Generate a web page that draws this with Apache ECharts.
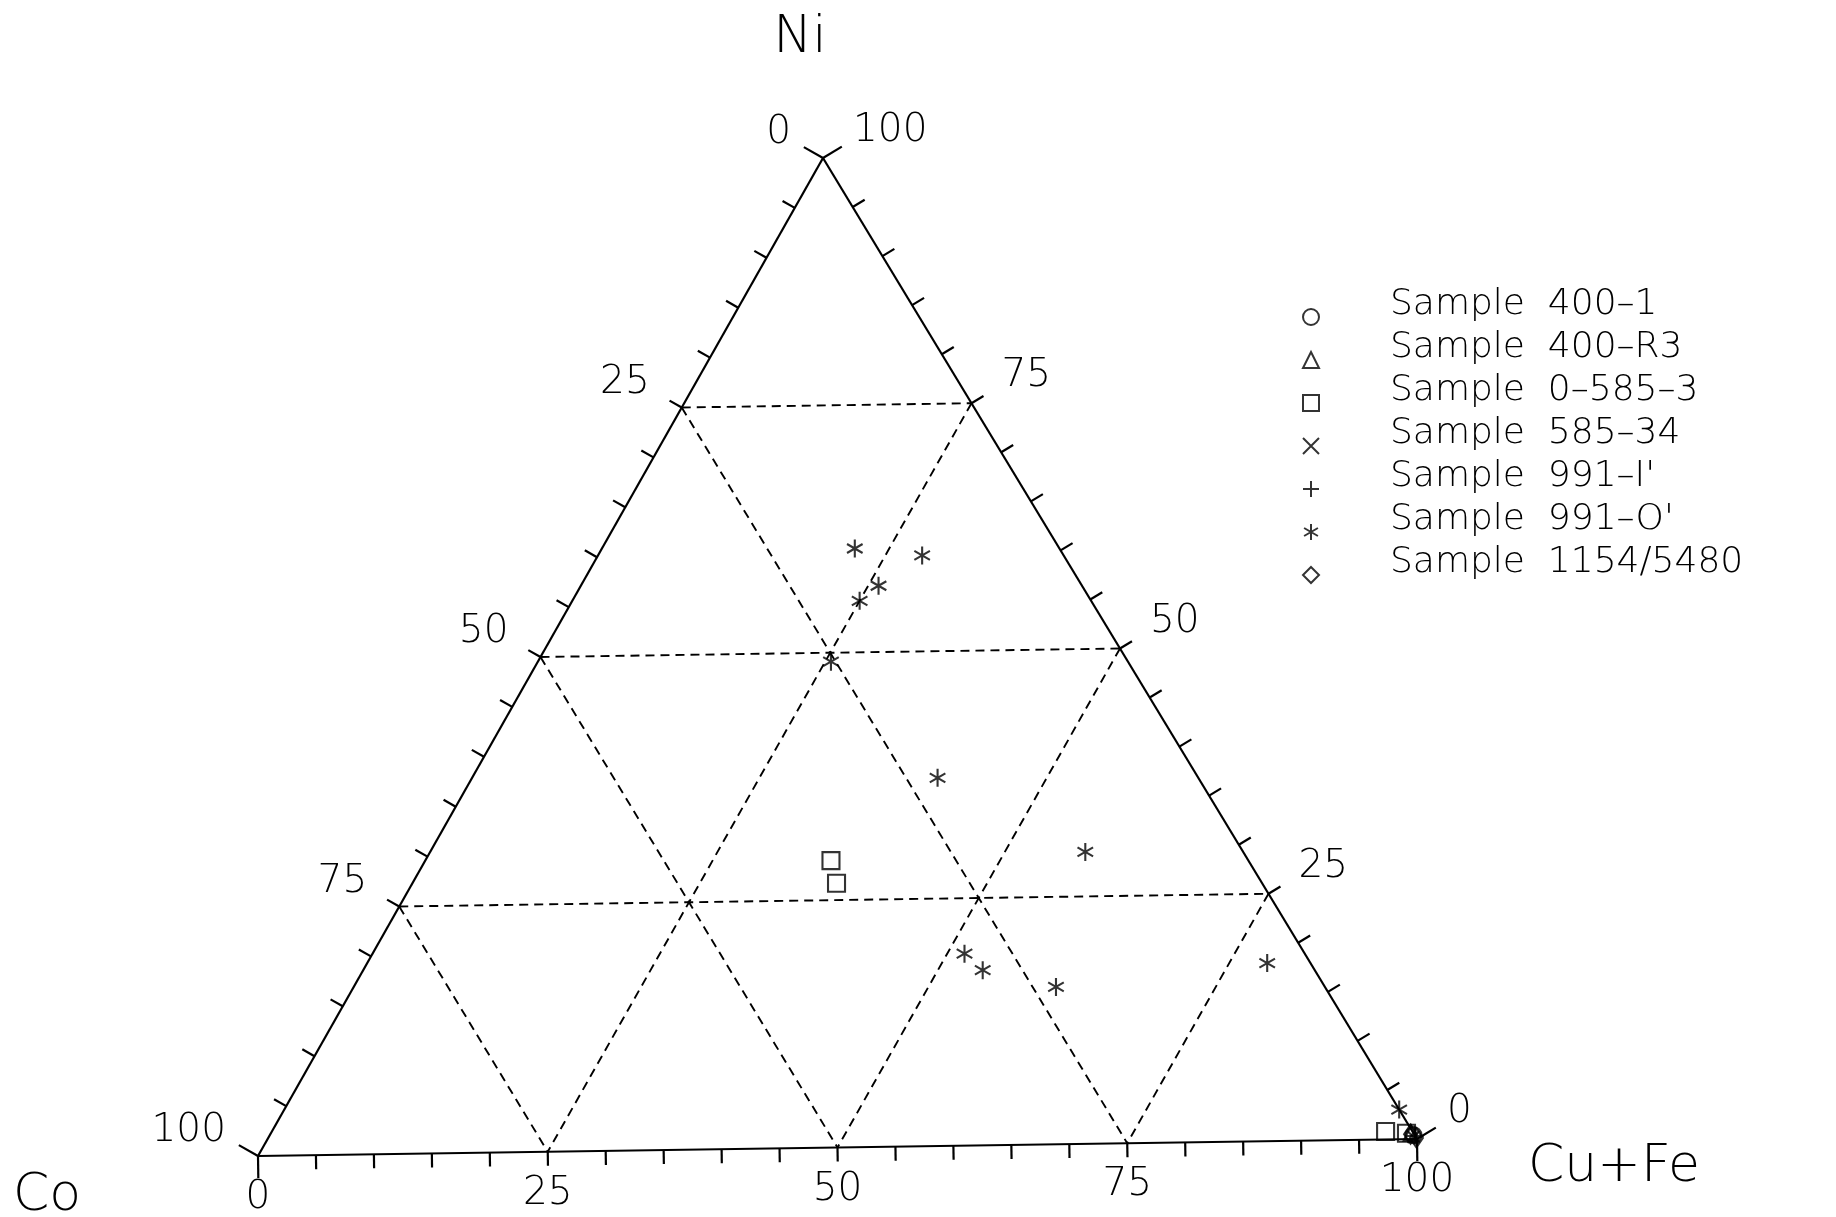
<!DOCTYPE html>
<html>
<head>
<meta charset="utf-8">
<title>Ni – Co – Cu+Fe ternary diagram</title>
<script src="https://cdn.jsdelivr.net/npm/echarts@6/dist/echarts.min.js"></script>
<style>
  html, body { margin: 0; padding: 0; background: #fff; }
  #chart { width: 1836px; height: 1217px; }
</style>
</head>
<body>
<div id="chart"></div>
<script>
// ---- compositions, percent: [Ni, Co, Cu+Fe] ----
const CORNER_NAMES = ['Ni', 'Co', 'Cu+Fe'];
const TICK_LABELS = ['0', '25', '50', '75', '100'];
const TICK_LABEL_VALUES = [0, 25, 50, 75, 100];
const GRID_LEVELS = [25, 50, 75];
const TICK_STEP = 5;

const SAMPLE_NAMES = ['400–1', '400–R3', '0–585–3', '585–34', "991–I'", "991–O'", '1154/5480'];

const s400_1 = [[0.4, 0.1, 99.5]];
const s400_R3 = [[0.6, 0.2, 99.2]];
const s0_585_3 = [[29.0, 35.7, 35.3], [26.7, 36.4, 36.9], [0.8, 2.3, 96.9], [0.6, 0.6, 98.8]];
const s585_34 = [[0.2, 0.2, 99.6]];
const s991_I = [[0.3, 0.0, 99.7]];
const s991_O = [
  [60.5, 17.5, 22.0], [59.7, 12.1, 28.2], [56.7, 17.4, 25.9], [55.2, 19.8, 25.0],
  [49.1, 25.4, 25.5], [37.2, 22.3, 40.5], [29.5, 13.5, 57.0], [19.4, 29.1, 51.5],
  [17.7, 28.4, 53.9], [15.9, 23.0, 61.1], [18.0, 3.7, 78.3], [3.0, 0.0, 97.0]
];
const s1154_5480 = [[0.1, 0.0, 99.9], [0.5, 0.3, 99.2]];

// ---- layout ----
const FONT = 'DejaVu Sans';
const WEIGHT = 200;
const INK = '#000';
// plane units: the grid spans the whole canvas, so one unit is one pixel
const PLANE_W = 1836, PLANE_H = 1217;
const CORNER = { ni: [823, 158], co: [258, 1156], cufe: [1417, 1139] };

function plane(ni, co, cufe) {
  const s = ni + co + cufe;
  return [
    (ni * CORNER.ni[0] + co * CORNER.co[0] + cufe * CORNER.cufe[0]) / s,
    (ni * CORNER.ni[1] + co * CORNER.co[1] + cufe * CORNER.cufe[1]) / s
  ];
}

// the three scales running along the triangle edges
const AXES = [
  { at: v => plane(0, 100 - v, v), label: { dx: 0, dy: 42, align: 'center' } },   // Cu+Fe, base
  { at: v => plane(100 - v, v, 0), label: { dx: -32, dy: -25, align: 'right' } }, // Co, left edge
  { at: v => plane(v, 0, 100 - v), label: { dx: 30, dy: -27, align: 'left' } }    // Ni, right edge
];

// dashed guide lines at constant Ni, Co and Cu+Fe
const guideRows = [];
GRID_LEVELS.forEach(g => {
  guideRows.push(plane(g, 100 - g, 0).concat(plane(g, 0, 100 - g)));
  guideRows.push(plane(100 - g, g, 0).concat(plane(0, g, 100 - g)));
  guideRows.push(plane(100 - g, 0, g).concat(plane(0, 100 - g, g)));
});

function renderAxis(params, api) {
  const ax = AXES[params.dataIndex];
  const a = api.coord(ax.at(0)), b = api.coord(ax.at(100));
  const c = api.coord(plane(1, 1, 1));
  let dx = b[0] - a[0], dy = b[1] - a[1];
  const len = Math.hypot(dx, dy); dx /= len; dy /= len;
  let nx = dy, ny = -dx;
  if (((a[0] + b[0]) / 2 - c[0]) * nx + ((a[1] + b[1]) / 2 - c[1]) * ny < 0) { nx = -nx; ny = -ny; }
  const children = [{
    type: 'line', shape: { x1: a[0], y1: a[1], x2: b[0], y2: b[1] },
    style: { stroke: INK, lineWidth: 2.2 }
  }];
  for (let v = 0; v <= 100; v += TICK_STEP) {
    const p = api.coord(ax.at(v));
    const L = (v === 0 || v === 100) ? 22 : 14;
    children.push({
      type: 'line', shape: { x1: p[0], y1: p[1], x2: p[0] + nx * L, y2: p[1] + ny * L },
      style: { stroke: INK, lineWidth: 2.2 }
    });
  }
  TICK_LABEL_VALUES.forEach((v, i) => {
    const p = api.coord(ax.at(v));
    children.push({
      type: 'text', x: p[0] + ax.label.dx, y: p[1] + ax.label.dy,
      style: {
        text: TICK_LABELS[i], fill: INK, fontFamily: FONT, fontWeight: WEIGHT, fontSize: 39,
        align: ax.label.align, verticalAlign: 'middle'
      }
    });
  });
  return { type: 'group', children };
}

function renderGuide(params, api) {
  const p1 = api.coord([api.value(0), api.value(1)]);
  const p2 = api.coord([api.value(2), api.value(3)]);
  return {
    type: 'line', shape: { x1: p1[0], y1: p1[1], x2: p2[0], y2: p2[1] },
    style: { stroke: INK, lineWidth: 1.9, lineDash: [9, 6] }
  };
}

const SYMBOLS = [
  { symbol: 'circle', size: 16 },
  { symbol: 'triangle', size: 15 },
  { symbol: 'rect', size: 17 },
  { symbol: 'path://M-1,-1L1,1M-1,1L1,-1', size: 12 },
  { symbol: 'path://M0,-1L0,1M-1,0L1,0', size: 17 },
  { symbol: 'path://M0,-1L0,1M-0.866,-0.5L0.866,0.5M-0.866,0.5L0.866,-0.5', size: 18 },
  { symbol: 'diamond', size: [13, 19] }
];
const SAMPLE_DATA = [s400_1, s400_R3, s0_585_3, s585_34, s991_I, s991_O, s1154_5480];

const sampleSeries = SAMPLE_NAMES.map((n, i) => ({
  name: 'Sample  ' + n,
  type: 'scatter',
  symbol: SYMBOLS[i].symbol,
  symbolSize: SYMBOLS[i].size,
  symbolKeepAspect: true,
  itemStyle: { color: 'rgba(0,0,0,0)', borderColor: INK, borderWidth: 2.1 },
  emphasis: { disabled: true },
  z: 5,
  data: SAMPLE_DATA[i].map(r => plane(r[0], r[1], r[2]))
}));

const titleStyle = { fill: INK, fontFamily: FONT, fontWeight: WEIGHT, fontSize: 52, align: 'center', verticalAlign: 'middle' };

const chart = echarts.init(document.getElementById('chart'), null, { renderer: 'canvas' });
chart.setOption({
  backgroundColor: '#fff',
  animation: false,
  grid: { left: 0, top: 0, right: 0, bottom: 0 },
  xAxis: { type: 'value', min: 0, max: PLANE_W, show: false },
  yAxis: { type: 'value', min: 0, max: PLANE_H, inverse: true, show: false },
  legend: {
    orient: 'vertical', left: 1297, top: 282,
    itemWidth: 16, itemHeight: 16, itemGap: -17,
    symbolKeepAspect: true,
    selectedMode: false,
    itemStyle: { borderWidth: 2 },
    // an empty second line lifts the name half a line above its marker
    formatter: name => name + '\n ',
    textStyle: {
      fontFamily: FONT, fontWeight: WEIGHT, fontSize: 36, color: INK,
      lineHeight: 24, padding: [0, 0, 0, 66]
    },
    data: sampleSeries.map(s => s.name)
  },
  graphic: [
    { type: 'text', x: 800, y: 38, style: Object.assign({ text: CORNER_NAMES[0] }, titleStyle) },
    { type: 'text', x: 47, y: 1196, style: Object.assign({ text: CORNER_NAMES[1] }, titleStyle) },
    { type: 'text', x: 1614, y: 1167, style: Object.assign({ text: CORNER_NAMES[2] }, titleStyle) }
  ],
  series: [
    {
      type: 'custom', name: 'guides', silent: true, clip: false, z: 1,
      encode: { x: [0, 2], y: [1, 3] },
      renderItem: renderGuide, data: guideRows
    },
    {
      type: 'custom', name: 'frame', silent: true, clip: false, z: 2,
      renderItem: renderAxis, data: [[0], [1], [2]]
    }
  ].concat(sampleSeries)
});
</script>
</body>
</html>
